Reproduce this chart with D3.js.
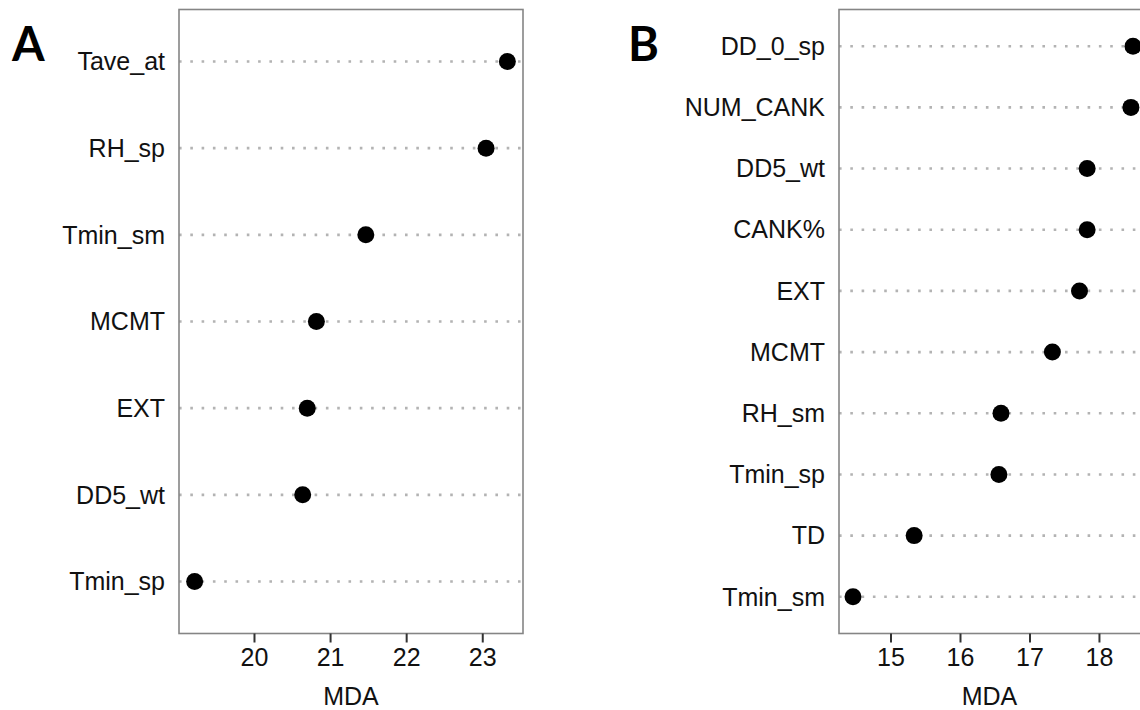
<!DOCTYPE html>
<html>
<head>
<meta charset="utf-8">
<script src="https://cdn.jsdelivr.net/npm/d3@7/dist/d3.min.js"></script>
<style>
  html, body { margin: 0; padding: 0; background: #fff; }
  svg { display: block; }
</style>
</head>
<body>
<script>
// Panel A: variable importance (mean decrease in accuracy)
const varsA = ["Tave_at", "RH_sp", "Tmin_sm", "MCMT", "EXT", "DD5_wt", "Tmin_sp"];
const mdaA  = [23.33, 23.05, 21.47, 20.82, 20.70, 20.64, 19.22];
const ticksA = [20, 21, 22, 23];

// Panel B: variable importance (mean decrease in accuracy)
const varsB = ["DD_0_sp", "NUM_CANK", "DD5_wt", "CANK%", "EXT", "MCMT", "RH_sm", "Tmin_sp", "TD", "Tmin_sm"];
const mdaB  = [18.49, 18.46, 17.83, 17.83, 17.72, 17.33, 16.59, 16.56, 15.34, 14.46];
const ticksB = [15, 16, 17, 18];

const W = 1140, H = 710;
const FONT = "'Liberation Sans', Arial, sans-serif";
const FS = 25;

const svg = d3.select("body").append("svg")
  .attr("width", W).attr("height", H);

function panel(opts) {
  const { vars, vals, ticks, x0, x1, y0, y1, letter, letterX } = opts;
  const g = svg.append("g");

  // continuous axis with 5% padding on both sides
  const lo = d3.min(vals), hi = d3.max(vals), pad = (hi - lo) * 0.05;
  const x = d3.scaleLinear().domain([lo - pad, hi + pad]).range([x0, x1]);
  const y = d3.scalePoint().domain(vars).range([y0, y1]).padding(0.6);

  // dotted guide lines across the panel
  g.selectAll("line.guide").data(vars).join("line")
    .attr("class", "guide")
    .attr("x1", x0).attr("x2", x1)
    .attr("y1", d => y(d)).attr("y2", d => y(d))
    .attr("stroke", "#b3b3b3")
    .attr("stroke-width", 2.6)
    .attr("stroke-dasharray", "2.6,8.7");

  // points
  g.selectAll("circle").data(vars).join("circle")
    .attr("cx", (d, i) => x(vals[i]))
    .attr("cy", d => y(d))
    .attr("r", 8.5)
    .attr("fill", "#000");

  // panel border
  g.append("rect")
    .attr("x", x0).attr("y", y0)
    .attr("width", x1 - x0).attr("height", y1 - y0)
    .attr("fill", "none")
    .attr("stroke", "#858585")
    .attr("stroke-width", 1.6);

  // y labels (no tick marks)
  g.selectAll("text.ylab").data(vars).join("text")
    .attr("class", "ylab")
    .attr("x", x0 - 14)
    .attr("y", d => y(d))
    .attr("dy", "0.35em")
    .attr("text-anchor", "end")
    .attr("font-family", FONT)
    .attr("font-size", FS)
    .attr("fill", "#111")
    .text(d => d);

  // x axis
  const ax = g.append("g")
    .attr("transform", `translate(0,${y1})`)
    .call(d3.axisBottom(x).tickValues(ticks).tickSize(9).tickPadding(6).tickFormat(d3.format("d")));
  ax.select(".domain").remove();
  ax.selectAll(".tick line").attr("stroke", "#333").attr("stroke-width", 2);
  ax.selectAll(".tick text")
    .attr("font-family", FONT)
    .attr("font-size", FS)
    .attr("fill", "#111");

  // axis title
  g.append("text")
    .attr("x", (x0 + Math.min(x1, W)) / 2)
    .attr("y", 705)
    .attr("text-anchor", "middle")
    .attr("font-family", FONT)
    .attr("font-size", FS)
    .attr("fill", "#111")
    .text("MDA");

  // panel letter
  svg.append("text")
    .attr("x", letterX).attr("y", 61)
    .attr("font-family", "Lato, 'Open Sans', sans-serif")
    .attr("font-weight", 700)
    .attr("font-size", 47)
    .attr("fill", "#000")
    .text(letter);
}

panel({ vars: varsA, vals: mdaA, ticks: ticksA, x0: 179, x1: 523, y0: 9.5, y1: 633.5, letter: "A", letterX: 12 });
panel({ vars: varsB, vals: mdaB, ticks: ticksB, x0: 839, x1: 1147, y0: 9.5, y1: 633.5, letter: "B", letterX: 628 });
</script>
</body>
</html>
